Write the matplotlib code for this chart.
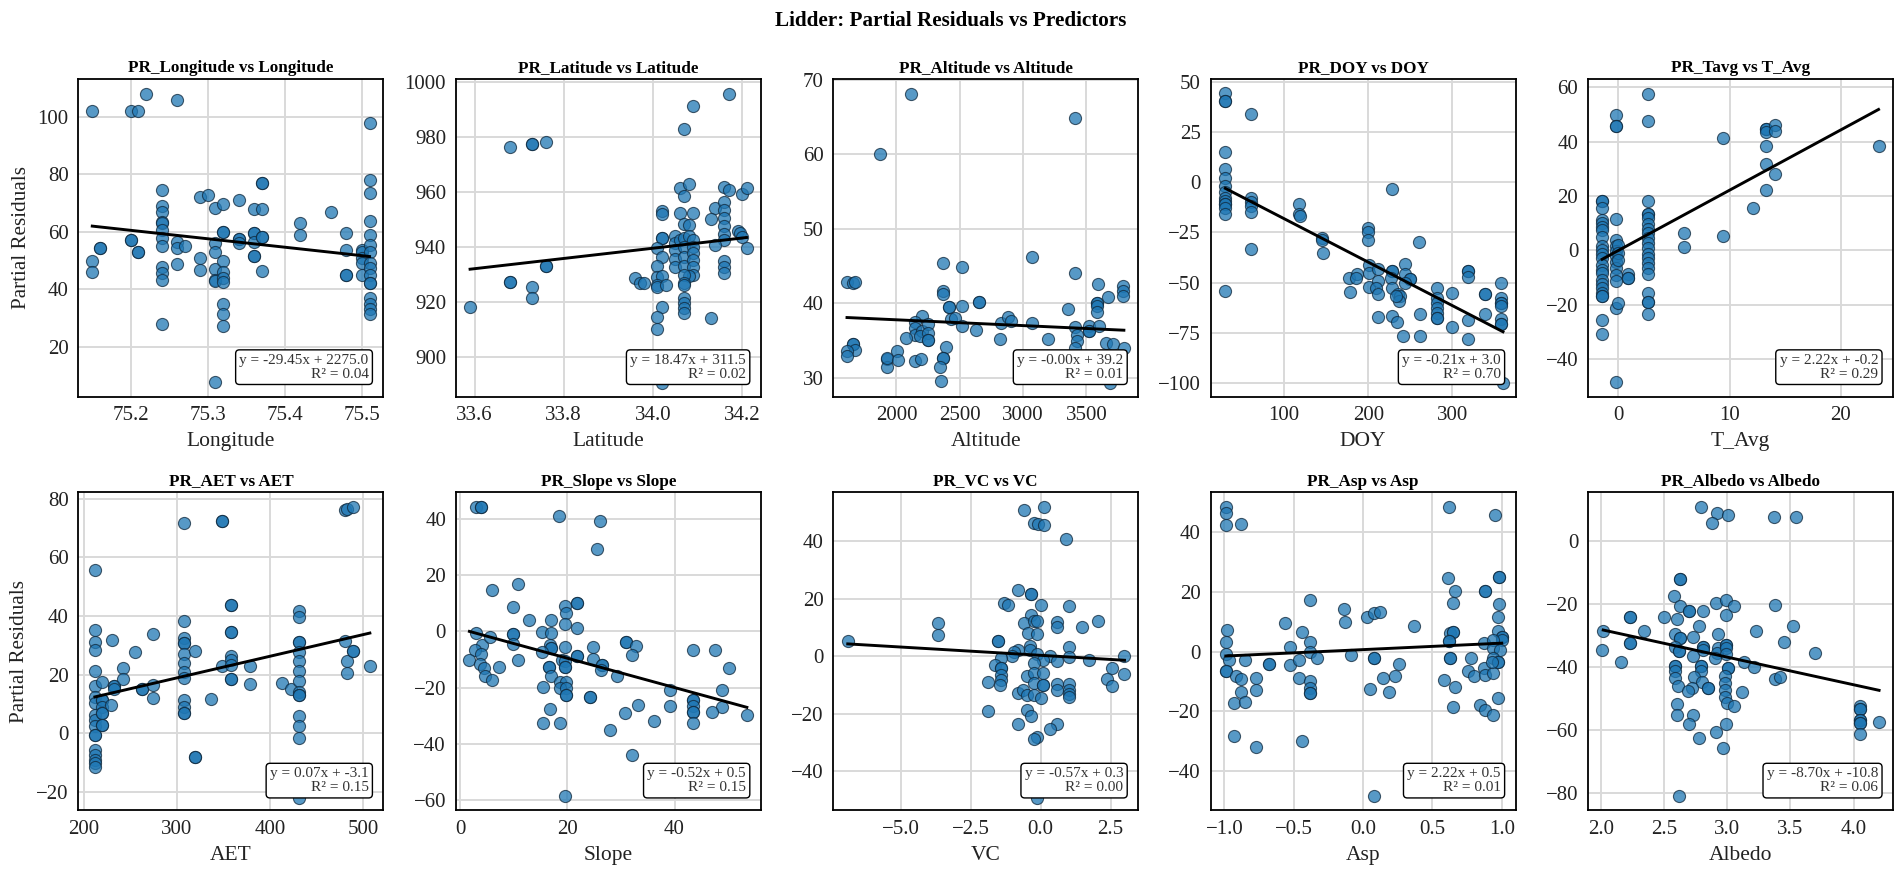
#!/usr/bin/env python3
# -*- coding: utf-8 -*-

import numpy as np
import matplotlib
matplotlib.use("Agg")
import matplotlib.pyplot as plt

plt.rcParams.update({
    "font.family": ["Liberation Serif", "DejaVu Serif"],
    "font.size": 14,
    "axes.linewidth": 1.3,
    "axes.unicode_minus": True,
})

# values, (predictor, partial residual)
longitude_pts = [
    (75.15, 102), (75.2, 102), (75.21, 102), (75.22, 108), (75.26, 106), (75.51, 98),
    (75.16, 54.3), (75.16, 54.3), (75.15, 50), (75.15, 46), (75.2, 57), (75.2, 57), (75.21, 53), (75.21, 53),
    (75.24, 74.6), (75.24, 69), (75.24, 67), (75.24, 63.6), (75.24, 63), (75.24, 60.7), (75.24, 58), (75.24, 55),
    (75.24, 47.7), (75.24, 45.6), (75.24, 43.3), (75.24, 27.8),
    (75.26, 56.6), (75.26, 54.3), (75.26, 48.7), (75.27, 55),
    (75.29, 72.3), (75.29, 50.8), (75.29, 46.7), (75.3, 73),
    (75.31, 68.3), (75.31, 56), (75.31, 53), (75.31, 47), (75.31, 43.3), (75.31, 43), (75.31, 7.6),
    (75.32, 69.8), (75.32, 59.8), (75.32, 59.8), (75.32, 50), (75.32, 46), (75.32, 44), (75.32, 42.5),
    (75.32, 34.8), (75.32, 31.3), (75.32, 27.2),
    (75.34, 71), (75.34, 57.4), (75.34, 57.4), (75.34, 56),
    (75.36, 68), (75.36, 59.5), (75.36, 59.5), (75.36, 56.6), (75.36, 51.6), (75.36, 51.6),
    (75.37, 77), (75.37, 77), (75.37, 68), (75.37, 58.1), (75.37, 58.1), (75.37, 46.5),
    (75.42, 63), (75.42, 59), (75.46, 67), (75.48, 59.5), (75.48, 53.7), (75.48, 44.8), (75.48, 44.8),
    (75.5, 53.7), (75.5, 53), (75.5, 50.8), (75.5, 49), (75.5, 45),
    (75.51, 78), (75.51, 73.7), (75.51, 63.7), (75.51, 59), (75.51, 55.5), (75.51, 52.8), (75.51, 49), (75.51, 47.3),
    (75.51, 45), (75.51, 42), (75.51, 42), (75.51, 37), (75.51, 34.8), (75.51, 33), (75.51, 31.3),
]
latitude_pts = [
    (33.59, 918.2), (33.68, 976.3), (33.73, 977.4), (33.73, 977.4), (33.76, 978), (33.68, 927.3), (33.68, 927.3),
    (33.73, 925.5), (33.73, 921.5), (33.76, 933.2), (33.76, 933.2), (33.96, 928.7), (33.97, 927),
    (34.17, 995.7), (34.09, 991.3), (34.07, 982.9), (34.06, 961.4), (34.08, 963), (34.07, 958.6), (34.16, 962),
    (34.17, 960.8), (34.2, 959.2), (34.21, 961.3), (34.02, 953), (34.02, 952), (34.06, 952.3), (34.09, 952.3),
    (34.14, 954.2), (34.16, 956.2), (34.16, 953.6), (34.13, 950.2), (34.16, 950.5), (34.16, 947.5), (34.07, 948.4),
    (34.08, 948), (34.19, 946), (34.195, 945), (34.2, 943.6), (34.16, 944.8), (34.16, 942.7), (34.14, 940.8),
    (34.21, 939.6), (34.02, 943.2), (34.02, 943.2), (34.05, 943.9), (34.05, 941.5), (34.06, 942.7), (34.07, 943.3),
    (34.08, 943.9), (34.09, 942.7), (34.01, 939.6), (34.02, 936.6), (34.05, 939), (34.05, 935.6), (34.05, 932.7),
    (34.07, 940.2), (34.07, 936.6), (34.07, 933.2), (34.09, 940), (34.09, 937.8), (34.09, 935.4), (34.09, 932.7),
    (34.09, 930), (34.08, 929.7), (34.07, 930), (34.07, 926.9), (34.07, 926.3), (34.01, 933.2), (34.01, 929.3),
    (34.02, 929.7), (34.01, 926.3), (34.01, 925.7), (34.03, 926.3), (33.98, 927), (34.02, 918.2), (34.01, 914.5),
    (34.01, 910.3), (34.07, 921.5), (34.07, 919.7), (34.07, 917.8), (34.07, 916), (34.13, 914.2), (34.16, 934.8),
    (34.16, 932.7), (34.16, 930.6), (34.02, 890.6),
]
altitude_pts = [
    (1868, 60), (2113, 68.1), (3410, 64.9), (1610, 42.9), (1655, 42.8), (1672, 42.9), (2364, 45.4), (2515, 44.9),
    (3069, 46.2), (3410, 44.1), (3593, 42.6), (3793, 42.3), (3793, 41.7), (3793, 41), (3667, 40.8), (3580, 40.1),
    (3580, 40.1), (3580, 39.6), (3587, 38.9), (3358, 39.3), (2364, 41.7), (2364, 41.2), (2418, 39.5), (2418, 39.5),
    (2515, 39.6), (2653, 40.2), (2653, 40.2), (2203, 38.3), (2145, 37.5), (2145, 36.7), (2145, 35.8), (2203, 36.3),
    (2187, 35.6), (2251, 37.2), (2251, 36), (2251, 35.1), (2251, 35.1), (2074, 35.3), (2428, 37.9), (2460, 38.1),
    (2515, 36.9), (2631, 36.4), (2827, 37.3), (2879, 38.2), (2901, 37.6), (2820, 35.2), (3072, 37.3), (3200, 35.2),
    (3410, 36.8), (3426, 35.8), (3426, 35), (3522, 37), (3522, 36.3), (3522, 36.3), (3603, 37), (3651, 34.7),
    (3709, 34.5), (3796, 34), (3683, 29.3), (3410, 34), (1655, 34.5), (1655, 34.5), (1672, 33.8), (1610, 33.6),
    (1610, 32.9), (1929, 32.5), (1929, 31.5), (1929, 32.7), (2003, 33.6), (2016, 32.4), (2145, 32.3), (2193, 32.5),
    (2389, 34.1), (2364, 32.7), (2364, 32.7), (2341, 31.5), (2354, 29.6),
]
doy_pts = [
    (30, 44.4), (30, 40.5), (30, 40.5), (30, 15), (30, 6.5), (30, 2.3), (30, -1.8), (30, -5), (30, -7.6), (30, -9.3),
    (30, -11), (30, -11), (30, -12.6), (30, -16), (30, -54), (60, 33.9), (60, -7.6), (60, -10), (60, -11.8),
    (60, -14.8), (60, -33), (117, -10.7), (117, -16), (119, -17), (145, -27.6), (145, -29), (146, -35), (200, -22.6),
    (200, -25), (200, -28.7), (228, -3.3), (260, -29.7), (177, -47.5), (187, -45.5), (185, -47.5), (178, -54.7),
    (201, -41.2), (201, -45), (212, -43), (201, -52), (212, -49), (209, -52.5), (212, -55.8), (228, -44.2), (228, -44.2),
    (227, -47.5), (228, -52.5), (243, -40.5), (243, -45.8), (249, -48.3), (249, -48.3), (243, -50), (235, -55.8),
    (238, -56.6), (237, -59), (233, -56.6), (212, -67), (228, -66.6), (234, -69.6), (241, -76.7), (261, -76.4),
    (261, -65.8), (282, -52.5), (282, -57.5), (282, -60), (282, -62.5), (282, -65), (282, -67.4), (282, -67.4),
    (300, -55), (300, -72), (318, -44.2), (318, -44.2), (319, -47), (319, -68.8), (319, -77.9), (339, -55.5),
    (339, -55.5), (339, -65.4), (358, -50.3), (358, -57.5), (358, -60), (358, -60), (358, -61.6), (358, -68),
    (358, -70.8), (358, -70.8), (360, -99.8),
]
tavg_pts = [
    (-1.45, 18), (-1.45, 18), (-1.45, 15.6), (-1.45, 11.3), (-1.45, 10), (-1.45, 8.6), (-1.45, 7.6), (-1.45, 4.9),
    (-1.45, 1.5), (-1.45, 0.2), (-1.45, -1.2), (-1.45, -2.8), (-1.45, -5.3), (-1.45, -7.1), (-1.45, -8.4),
    (-1.45, -10.8), (-1.45, -12.3), (-1.45, -13.9), (-1.45, -15.7), (-1.45, -17), (-1.45, -17), (-1.45, -25.8),
    (-1.45, -30.8), (-0.2, 49.6), (-0.2, 45.7), (-0.2, 45.7), (-0.2, 11.5), (-0.2, 3.7), (-0.2, 1.5), (-0.2, -0.4),
    (-0.2, -2.2), (-0.2, -4.3), (-0.2, -6.5), (-0.2, -9), (-0.2, -11.4), (-0.2, -21.3), (0, -19.4), (0, 2), (0, -1),
    (0, -3.4), (-0.2, -48.5), (0.9, -8.7), (0.9, -10.2), (0.9, -10.2), (2.7, 57.6), (2.7, 47.5), (2.7, 18.3),
    (2.7, 13.4), (2.7, 13.4), (2.7, 11.9), (2.7, 9.5), (2.7, 8), (2.7, 6.4), (2.7, 4.5), (2.7, 2.7), (2.7, 0.9),
    (2.7, -1.2), (2.7, -2.8), (2.7, -4.7), (2.7, -6.5), (2.7, -8.7), (2.7, -15.7), (2.7, -19.2), (2.7, -19.2),
    (2.7, -23.3), (5.9, 6.3), (5.9, 1.2), (9.4, 41.2), (9.4, 5.2), (12.1, 15.4), (13.3, 44.7), (13.3, 44.7),
    (13.3, 43.5), (13.3, 38.3), (13.3, 31.7), (13.3, 22.2), (14.1, 46), (14.1, 43.9), (14.1, 27.9), (23.4, 38.3),
]
aet_pts = [
    (212, 55.6), (212, 35.3), (212, 31), (212, 28.5), (212, 21.2), (212, 16), (212, 12.5), (212, 10.3), (212, 6.3),
    (212, 4.6), (212, 2.5), (212, -0.6), (212, -0.6), (212, -5.7), (212, -7.4), (212, -9.1), (212, -10.3), (212, -11.4),
    (220, 17.4), (220, 11.4), (220, 11.4), (220, 9.1), (220, 6.8), (220, 6.8), (220, 2.8), (220, 2.8),
    (230, 31.9), (232, 16), (232, 16), (232, 15), (229, 9.7), (242, 22.4), (242, 18.6), (255, 27.6), (263, 15), (263, 15),
    (274, 34), (274, 16.5), (274, 12.2), (308, 71.8), (308, 38.4), (308, 32.5), (308, 30.8), (308, 30.8), (308, 27),
    (308, 24.1), (308, 21), (308, 18.8), (308, 11.2), (308, 9), (308, 6.8), (308, 6.8), (319, 28.2), (319, -8), (319, -8),
    (337, 11.8), (348, 72.3), (348, 72.3), (348, 22.8), (358, 43.8), (358, 43.8), (358, 34.7), (358, 34.7), (358, 26.4),
    (358, 25), (358, 23.3), (358, 18.5), (358, 18.5), (378, 22.8), (378, 16.9), (413, 17.3), (422, 15.1),
    (431, 41.6), (431, 39.6), (431, 31.3), (431, 31.3), (431, 27.9), (431, 24.5), (431, 21.4), (431, 17.7), (431, 14.2),
    (431, 13.1), (431, 13.1), (431, 6), (431, 2.6), (431, -1.7), (431, -22.2), (480, 76.3), (480, 31.5), (482, 76.5),
    (489, 77.2), (482, 24.7), (482, 20.7), (489, 28.2), (489, 28.2), (507, 22.9),
]
slope_pts = [
    (3, 44.2), (3.8, 44.2), (3.8, 44.2), (18.5, 40.9), (26, 39.3), (25.6, 29.3), (5.9, 14.7), (10.7, 16.7), (9.9, 8.8),
    (12.8, 4.2), (17, 4.2), (19.6, 8.9), (19.8, 6.5), (19.5, 2.6), (21.7, 10.1), (21.7, 10.1), (21.7, 1.1), (3, -0.6),
    (4, -4.7), (2.7, -6.5), (3.8, -8), (1.7, -10.1), (3.6, -11.6), (4.4, -13), (4.6, -15.8), (5.9, -17.2), (7.2, -12.7),
    (5.5, -2), (9.9, -0.8), (9.9, -0.8), (9.8, -4.4), (10.7, -10.3), (15.3, -0.2), (17, -0.6), (16.8, -4.7), (17, -5.9),
    (17, -5.9), (15.3, -7.5), (16.6, -12.7), (16.6, -12.7), (17, -15.8), (15.4, -19.6), (16.8, -27.6), (15.4, -32.6),
    (18.6, -32.4), (19.6, -5.6), (18.9, -10), (19.6, -10.7), (19.6, -12.5), (19.6, -12.5), (21.7, -8.9), (21.7, -8.9),
    (18.6, -18), (19.8, -18), (18.6, -20.2), (19.8, -20.2), (19.8, -22.5), (19.8, -22.5), (24.8, -5.6), (24.8, -9.7),
    (26.5, -11.9), (26.5, -11.9), (26.3, -13.9), (24.3, -23.4), (24.3, -23.4), (28, -35.2), (29.3, -15.7), (30.9, -3.8),
    (30.9, -3.8), (32.8, -5.3), (32, -8.3), (33.1, -26.1), (30.7, -29.1), (32, -43.9), (19.5, -58.4), (39.2, -20.8),
    (39.2, -26.7), (36.1, -32), (43.4, -6.5), (47.6, -6.5), (50.2, -13), (48.9, -20.8), (48.9, -26.9), (46.9, -28.5),
    (43.5, -24.3), (43.5, -24.3), (43.5, -26.7), (43.5, -28.8), (43.5, -28.8), (43.5, -32.6), (53.5, -29.9),
]
vc_pts = [
    (-6.9, 5.2), (-3.67, 11.4), (-3.67, 7.3), (-0.58, 50.9), (0.12, 52.1), (-0.22, 46.3), (-0.09, 46), (0.12, 45.8),
    (0.9, 40.9), (-0.8, 22.9), (-0.34, 21.6), (-0.34, 21.6), (-1.3, 18.7), (-1.17, 18), (0, 17.8), (1.02, 17.6),
    (2.07, 12.4), (1.47, 10.1), (0.57, 12), (0.57, 10.2), (-0.34, 14.2), (-0.6, 11.4), (-0.23, 12.2), (-0.12, 12.4),
    (-0.45, 8.1), (-0.13, 7.9), (-1.52, 5.3), (-1.52, 5.3), (-0.38, 3.7), (1.02, 3.3), (-0.8, 2.3), (-0.96, 1.4),
    (-1.03, 0), (-0.38, 2.3), (-0.13, 0.9), (0.35, 0), (1.02, -0.2), (2.99, 0), (1.73, -1.2), (0.57, -1.5), (0.1, -1.4),
    (-0.23, -2.3), (-1.4, -0.6), (-1.65, -3.1), (-1.4, -4.1), (-1.4, -4.1), (-1.4, -6.4), (-1.4, -8.1), (-1.47, -9.9),
    (-1.87, -9.1), (2.54, -4.1), (2.99, -6.2), (2.39, -7.8), (2.54, -10.2), (-0.48, -6.7), (-0.23, -5.8), (0.1, -6),
    (-0.23, -9.3), (0.1, -9.9), (0.1, -9.9), (0.57, -9.5), (0.57, -11.6), (1.02, -9.5), (1.02, -11.6), (1.02, -13.1),
    (1.02, -14.3), (-0.82, -12.8), (-0.63, -11.9), (-0.48, -13.6), (-0.23, -13.4), (0, -14.5), (-1.87, -19.2),
    (-0.48, -18.8), (-0.34, -20.9), (-0.8, -23.7), (0.57, -23.6), (0.35, -25.2), (-0.13, -28.1), (-0.23, -28.7),
    (-0.13, -49.4),
]
asp_pts = [
    (-0.99, 48.4), (-0.99, 46.4), (-0.99, 42.2), (-0.88, 42.7), (-0.98, 7.3), (-0.99, 3.1), (-0.99, -0.8), (-0.97, -3),
    (-0.99, -6.4), (-0.99, -6.4), (-0.85, -2.8), (-0.92, -8.2), (-0.88, -9.2), (-0.88, -13.4), (-0.93, -17.3),
    (-0.85, -16.8), (-0.93, -28.2), (-0.77, -8.7), (-0.77, -12.8), (-0.77, -31.8), (-0.68, -4.2), (-0.68, -4.2),
    (-0.56, 9.7), (-0.53, 1.5), (-0.53, -4.5), (-0.44, 6.4), (-0.38, 3.1), (-0.38, 0), (-0.46, -3), (-0.33, -2),
    (-0.38, 17.3), (-0.46, -8.7), (-0.38, -9.7), (-0.38, -12.3), (-0.38, -14), (-0.38, -14), (-0.44, -29.8),
    (-0.14, 14.3), (-0.13, 10), (-0.09, -1.1), (0.03, 11.5), (0.08, 12.8), (0.12, 13.2), (0.08, -2.2), (0.08, -2.2),
    (0.05, -12.4), (0.14, -8.7), (0.23, -8.2), (0.26, -4.2), (0.19, -13.4), (0.37, 8.7), (0.08, -48.3), (0.62, 48.3),
    (0.95, 45.6), (0.61, 24.5), (0.66, 20.1), (0.65, 16.2), (0.63, 6.1), (0.65, 6.4), (0.65, 6.4), (0.62, 3.4),
    (0.62, 3.4), (0.63, -2), (0.63, -2), (0.58, -9.5), (0.66, -11.7), (0.65, -18.7), (0.78, -2), (0.76, -6.5), (0.8, -8.2),
    (0.87, -5.4), (0.88, -8), (0.94, -7.3), (0.84, -17.9), (0.88, -19.6), (0.94, -21.2), (0.88, 20.2), (0.88, 20.2),
    (0.98, 24.8), (0.98, 24.8), (0.98, 15.9), (0.97, 11.4), (0.97, 6.7), (1, 5), (1, 5), (1, 3.9), (0.87, 2.8), (0.94, 3.9),
    (0.94, 1.1), (0.99, 0.6), (0.94, -2.2), (0.97, -3.6), (0.97, -3.6), (0.93, -3.6), (0.97, -15.6),
]
albedo_pts = [
    (2.79, 10.9), (2.92, 9.2), (2.88, 5.8), (3.01, 8.3), (3.37, 7.9), (3.54, 7.9), (2.63, -11.8), (2.63, -11.8),
    (2.58, -17.3), (2.63, -20.4), (2.7, -22.3), (2.7, -22.3), (2.81, -22.3), (2.91, -19.7), (2.99, -18.6), (3.05, -20.4),
    (2.99, -23.4), (3.38, -20.2), (2.23, -24.2), (2.23, -24.2), (2.5, -23.9), (2.6, -24.8), (2.78, -26.9), (2.34, -28.5),
    (2.02, -28.5), (3.23, -28.5), (3.52, -26.9), (2.93, -29.5), (2.59, -29.5), (2.63, -30.8), (2.63, -30.8), (2.73, -30.5),
    (2.23, -32.4), (2.23, -32.4), (3.45, -32.1), (3.69, -35.4), (2.01, -34.5), (2.16, -38.5), (2.59, -33.5), (2.62, -35),
    (2.62, -35), (2.81, -33.5), (2.81, -33.5), (2.81, -34.5), (2.93, -34), (2.92, -35.6), (2.99, -32.9), (2.99, -32.9),
    (2.99, -34), (2.99, -35.8), (2.73, -36.4), (2.9, -37.2), (3.13, -38.5), (3.21, -40), (2.59, -39.5), (2.59, -39.5),
    (2.59, -41.4), (2.59, -43.6), (2.61, -46), (2.79, -39.6), (2.79, -39.6), (2.79, -41.1), (2.74, -43), (2.8, -44.6),
    (2.85, -46.5), (2.85, -46.5), (2.72, -46.5), (2.69, -47.5), (3.01, -40.4), (3.01, -40.4), (2.98, -42.8), (2.98, -45.2),
    (2.98, -47.3), (2.98, -49.4), (3, -51.5), (3.05, -52.4), (3.12, -48), (3.38, -43.8), (3.42, -43.3), (2.6, -51.8),
    (2.6, -55.3), (2.73, -55.3), (2.7, -58.1), (2.99, -58.2), (2.91, -60.8), (2.78, -62.7), (2.97, -65.9), (2.62, -81),
    (4.05, -52.4), (4.05, -53.5), (4.05, -53.5), (4.05, -56.9), (4.05, -56.9), (4.05, -57.9), (4.05, -57.9), (4.05, -61.3),
    (4.2, -57.4),
]

titles = ["PR_Longitude vs Longitude", "PR_Latitude vs Latitude", "PR_Altitude vs Altitude", "PR_DOY vs DOY",
          "PR_Tavg vs T_Avg", "PR_AET vs AET", "PR_Slope vs Slope", "PR_VC vs VC", "PR_Asp vs Asp",
          "PR_Albedo vs Albedo"]
xlabels = ["Longitude", "Latitude", "Altitude", "DOY", "T_Avg", "AET", "Slope", "VC", "Asp", "Albedo"]
fit_labels = [
    "y = -29.45x + 2275.0\nR² = 0.04", "y = 18.47x + 311.5\nR² = 0.02", "y = -0.00x + 39.2\nR² = 0.01",
    "y = -0.21x + 3.0\nR² = 0.70", "y = 2.22x + -0.2\nR² = 0.29", "y = 0.07x + -3.1\nR² = 0.15",
    "y = -0.52x + 0.5\nR² = 0.15", "y = -0.57x + 0.3\nR² = 0.00", "y = 2.22x + 0.5\nR² = 0.01",
    "y = -8.70x + -10.8\nR² = 0.06",
]
# end points of the fit lines
fit_x = [(75.15, 75.51), (33.59, 34.21), (1610, 3796), (30, 360), (-1.45, 23.4),
         (212, 507), (1.7, 53.5), (-6.9, 3), (-0.99, 1), (2.02, 4.2)]
fit_y = [(62, 51.4), (932, 943.5), (38.1, 36.4), (-3, -74.5), (-3.3, 51.8),
         (12.4, 34.2), (0, -27), (4.3, -1.4), (-1.5, 2.8), (-28.2, -47.4)]

x_limits = [(75.132, 75.528), (33.558, 34.242), (1501, 3909), (12.5, 375), (-2.72, 24.7),
            (194.3, 521.5), (-0.84, 56.1), (-7.42, 3.49), (-1.1, 1.1), (1.9, 4.31)]
y_limits = [(2.56, 113.3), (885.8, 1001), (27.5, 70.1), (-106.8, 51.5), (-53.8, 63),
            (-26.2, 82.2), (-63.5, 49.4), (-53.5, 57), (-53, 53.2), (-85.5, 15.6)]
x_ticks = [[75.2, 75.3, 75.4, 75.5], [33.6, 33.8, 34.0, 34.2], [2000, 2500, 3000, 3500], [100, 200, 300], [0, 10, 20],
           [200, 300, 400, 500], [0, 20, 40], [-5.0, -2.5, 0.0, 2.5], [-1.0, -0.5, 0.0, 0.5, 1.0],
           [2.0, 2.5, 3.0, 3.5, 4.0]]
y_ticks = [[20, 40, 60, 80, 100], [900, 920, 940, 960, 980, 1000], [30, 40, 50, 60, 70],
           [-100, -75, -50, -25, 0, 25, 50], [-40, -20, 0, 20, 40, 60], [-20, 0, 20, 40, 60, 80],
           [-60, -40, -20, 0, 20, 40], [-40, -20, 0, 20, 40], [-40, -20, 0, 20, 40], [-80, -60, -40, -20, 0]]

all_pts = [longitude_pts, latitude_pts, altitude_pts, doy_pts, tavg_pts,
           aet_pts, slope_pts, vc_pts, asp_pts, albedo_pts]


def main():
    fig, axes = plt.subplots(2, 5, figsize=(19.02, 8.76), dpi=100)
    fig.subplots_adjust(left=78.4 / 1902, right=1893 / 1902, top=1 - 79 / 876, bottom=1 - 810 / 876,
                        wspace=0.2375, hspace=0.302)

    for i, ax in enumerate(axes.flat):
        pts = np.array(all_pts[i], dtype=float)
        ax.grid(True, color="#d9d9d9", linewidth=1.4, zorder=0)
        ax.set_axisbelow(True)
        ax.scatter(pts[:, 0], pts[:, 1], s=76, color="#1f77b4", alpha=0.75,
                   edgecolor="#10293d", linewidth=0.8, zorder=2)
        ax.plot(fit_x[i], fit_y[i], color="black", linewidth=2.1, zorder=3)

        ax.set_xlim(x_limits[i])
        ax.set_ylim(y_limits[i])
        ax.set_xticks(x_ticks[i])
        ax.set_yticks(y_ticks[i])
        ax.tick_params(length=0, labelsize=15, pad=7, colors="#222222")
        ax.set_title(titles[i], fontsize=12.3, fontweight="bold", pad=5)
        ax.set_xlabel(xlabels[i], fontsize=15.5, color="#222222", labelpad=5)
        if i % 5 == 0:
            ax.set_ylabel("Partial Residuals", fontsize=15.2, color="#222222", labelpad=5)

        ax.text(0.9515, 0.05, fit_labels[i], transform=ax.transAxes, ha="right", va="bottom",
                multialignment="right", fontsize=11, color="#333333", zorder=5, linespacing=1.1,
                bbox=dict(boxstyle="round,pad=0.25", facecolor="white", edgecolor="black", linewidth=1.0))

    fig.suptitle("Lidder: Partial Residuals vs Predictors", x=0.5, y=0.988, fontsize=15.2, fontweight="bold")
    fig.savefig("out.png", dpi=100)
    plt.close(fig)


if __name__ == "__main__":
    main()
